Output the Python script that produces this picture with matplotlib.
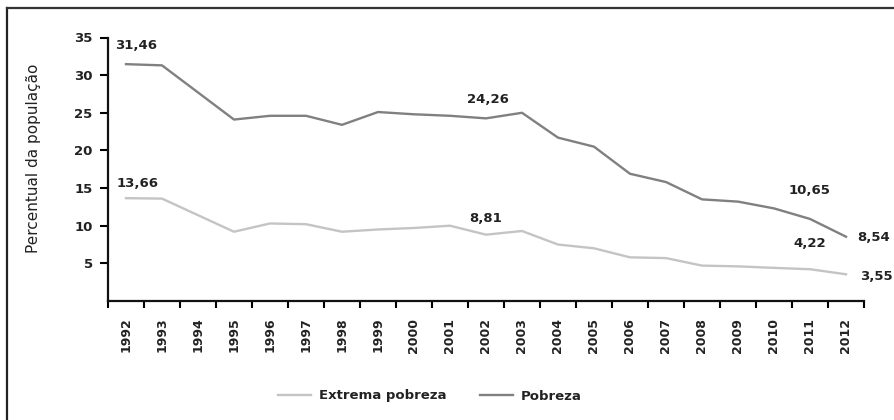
import matplotlib
matplotlib.use("Agg")
import matplotlib.pyplot as plt
from matplotlib.lines import Line2D

years = [str(y) for y in range(1992, 2013)]
# 1994 has no survey: the line goes straight from 1993 to 1995
data_years = [1992, 1993, 1995, 1996, 1997, 1998, 1999, 2000, 2001, 2002, 2003,
              2004, 2005, 2006, 2007, 2008, 2009, 2010, 2011, 2012]
pobreza = [31.46, 31.3, 24.1, 24.6, 24.6, 23.4, 25.1, 24.8, 24.6, 24.26, 25.0,
           21.7, 20.5, 16.9, 15.8, 13.5, 13.2, 12.3, 10.9, 8.54]
extrema = [13.66, 13.6, 9.2, 10.3, 10.2, 9.2, 9.5, 9.7, 10.0, 8.81, 9.3,
           7.5, 7.0, 5.8, 5.7, 4.7, 4.6, 4.4, 4.22, 3.55]

# (text, x index, y value, ha)
labels = [
    ("31,46", -0.3, 34.0, "left"),
    ("13,66", -0.25, 15.65, "left"),
    ("24,26", 10.05, 26.7, "center"),
    ("8,81", 10.0, 10.9, "center"),
    ("10,65", 19.0, 14.7, "center"),
    ("4,22", 19.0, 7.7, "center"),
    ("8,54", 20.3, 8.4, "left"),
    ("3,55", 20.4, 3.3, "left"),
]

c_pob = "#808080"
c_ext = "#c4c4c4"

fig = plt.figure(figsize=(8.94, 4.2), dpi=100, facecolor="white")
ax = fig.add_axes([108 / 894, (420 - 301) / 420, 756 / 894, (301 - 37.5) / 420])

xs = [y - 1992 for y in data_years]
ax.plot(xs, pobreza, color=c_pob, lw=1.7, solid_joinstyle="round")
ax.plot(xs, extrema, color=c_ext, lw=1.7, solid_joinstyle="round")

for text, x, y, ha in labels:
    ax.text(x, y, text, ha=ha, va="center", fontsize=9.5, fontweight="bold",
            color="#222222", clip_on=False)

ax.set_xlim(-0.5, len(years) - 0.5)
ax.set_ylim(0, 35)
ax.set_yticks([5, 10, 15, 20, 25, 30, 35])
ax.set_yticklabels(["5", "10", "15", "20", "25", "30", "35"],
                   fontsize=9.5, fontweight="bold", color="#222222")
ax.set_xticks([i - 0.5 for i in range(len(years) + 1)])
ax.set_xticklabels([])
ax.set_xticks(range(len(years)), minor=True)
ax.set_xticklabels(years, minor=True, rotation=90, fontsize=9,
                   fontweight="bold", color="#222222")
ax.tick_params(axis="x", which="major", direction="out", length=5, width=1.5)
ax.tick_params(axis="x", which="minor", length=0, pad=12)
ax.tick_params(axis="y", direction="out", length=6, width=1.5, pad=5)

for side in ("top", "right"):
    ax.spines[side].set_visible(False)
for side in ("left", "bottom"):
    ax.spines[side].set_linewidth(1.6)
    ax.spines[side].set_color("#111111")

ax.set_ylabel("Percentual da população", fontsize=11, color="#222222")
ax.yaxis.set_label_coords(-67 / 756, 0.543)

handles = [Line2D([], [], color=c_ext, lw=1.7), Line2D([], [], color=c_pob, lw=1.7)]
fig.legend(handles, ["Extrema pobreza", "Pobreza"], loc="center",
           bbox_to_anchor=(430 / 894, 24 / 420), ncol=2, frameon=False,
           prop={"size": 9.5, "weight": "bold"}, handlelength=2.5,
           handletextpad=0.6, columnspacing=2.5, labelcolor="#222222")

# frame cropped at left and top
fig.add_artist(Line2D([7 / 894, 7 / 894], [0, 1 - 8 / 420], color="#222222", lw=1.6))
fig.add_artist(Line2D([7 / 894, 1], [1 - 8 / 420, 1 - 8 / 420], color="#333333", lw=1.6))

fig.savefig("out.png", dpi=100, facecolor="white")
